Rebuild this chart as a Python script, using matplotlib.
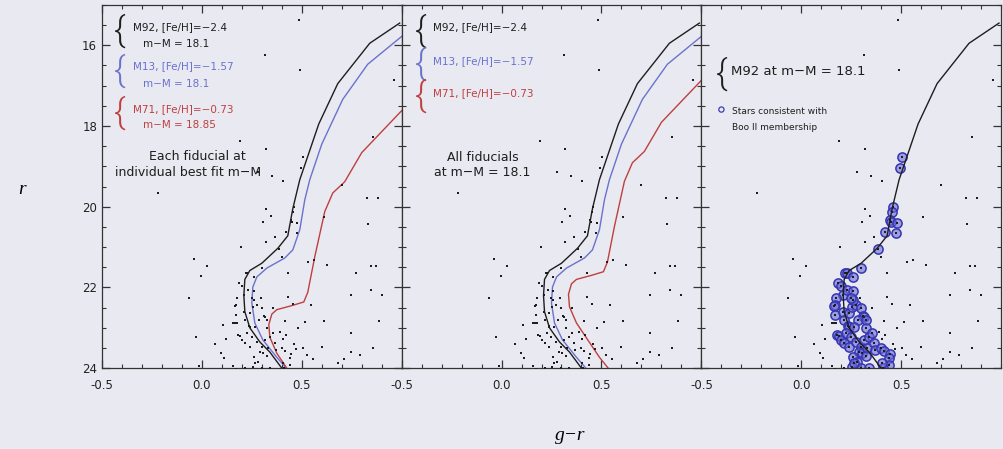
import matplotlib
matplotlib.use("Agg")
import matplotlib.pyplot as plt
from matplotlib.ticker import MultipleLocator, FormatStrFormatter

BG = "#e9e9f1"

# field stars (black dots only)
field_gr = [0.485, 0.315, 0.49, 0.96, 0.19, 0.32, 0.855, 0.28, 0.35, 0.405, 0.70, -0.22, 0.825, 0.88,
            0.32, 0.345, 0.305, 0.83, 0.61, 0.32, 0.365, 0.195, 0.40, 0.53, 0.56, 0.625, 0.845, 0.87,
            0.77, -0.04, 0.025, -0.005, -0.065, 0.43, 0.295, 0.105, 0.155, 0.165, 0.175, 0.355, 0.43,
            0.455, 0.545, 0.415, 0.515, 0.61, 0.48, 0.745, 0.845, 0.90, 0.885, 0.745, 0.855, 0.745,
            0.79, 0.71, 0.68, -0.03, 0.065, 0.12, 0.095, 0.11, -0.015, 0.155, 0.215, 0.17, -0.16,
            0.39, 0.42, 0.405, 0.47, 0.46, 0.505, 0.60, 0.525, 0.555]
field_r = [15.38, 16.25, 16.60, 16.86, 18.36, 18.57, 18.28, 19.15, 19.25, 19.37, 19.45, 19.65, 19.78, 19.78,
           20.05, 20.22, 20.37, 20.42, 20.25, 20.87, 20.75, 20.99, 21.25, 21.38, 21.33, 21.45, 21.47, 21.47,
           21.63, 21.30, 21.46, 21.72, 22.25, 21.64, 22.26, 22.93, 22.88, 22.88, 22.88, 22.51, 22.24,
           22.41, 22.43, 22.84, 22.85, 22.84, 23.00, 22.18, 22.06, 22.18, 22.84, 23.14, 23.49, 23.60,
           23.67, 23.77, 23.86, 23.23, 23.40, 23.28, 23.63, 23.75, 23.95, 23.95, 24.00, 24.03, 24.07,
           23.10, 23.18, 23.28, 23.53, 23.40, 23.50, 23.48, 23.67, 23.77]

# stars consistent with Boo II membership
memb_gr = [0.505, 0.495, 0.46, 0.455, 0.445, 0.45, 0.478, 0.475, 0.42, 0.385, 0.30, 0.22, 0.228, 0.26,
           0.185, 0.20, 0.21, 0.23, 0.26, 0.175, 0.17, 0.165, 0.17, 0.21, 0.215, 0.24, 0.235, 0.24,
           0.255, 0.275, 0.30, 0.31, 0.315, 0.285, 0.265, 0.325, 0.325, 0.18, 0.19, 0.20, 0.215, 0.225,
           0.25, 0.24, 0.275, 0.30, 0.315, 0.29, 0.305, 0.33, 0.34, 0.355, 0.365, 0.37, 0.26, 0.28,
           0.325, 0.40, 0.415, 0.445, 0.44, 0.44, 0.41, 0.405, 0.30, 0.34, 0.255, 0.265, 0.26, 0.25]
memb_r = [18.76, 19.03, 20.00, 20.12, 20.32, 20.37, 20.40, 20.66, 20.62, 21.05, 21.52, 21.64, 21.65, 21.74,
          21.89, 21.96, 22.19, 22.06, 22.09, 22.27, 22.44, 22.45, 22.68, 22.61, 22.81, 22.63, 22.96, 22.98,
          22.48, 22.43, 22.51, 22.71, 22.73, 22.81, 22.98, 22.81, 23.00, 23.18, 23.20, 23.30, 23.38, 23.13,
          23.23, 23.48, 23.35, 23.48, 23.30, 23.60, 23.63, 23.50, 23.23, 23.13, 23.38, 23.55, 23.73, 23.85,
          23.70, 23.50, 23.58, 23.65, 23.75, 23.93, 24.00, 23.88, 24.00, 24.00, 23.98, 23.88, 22.30, 22.26]

# fiducials, r at each cluster's best-fit distance modulus
m92_gr = [0.99, 0.84, 0.68, 0.585, 0.49, 0.455, 0.43, 0.38, 0.30, 0.24, 0.215, 0.21, 0.215, 0.24, 0.29, 0.34, 0.40, 0.44]
m92_r = [15.45, 15.95, 16.95, 17.95, 19.33, 20.05, 20.72, 21.03, 21.40, 21.58, 21.80, 22.20, 22.60, 23.00, 23.35, 23.60, 24.00, 24.20]
m13_gr = [1.0, 0.83, 0.705, 0.60, 0.54, 0.515, 0.49, 0.455, 0.415, 0.325, 0.275, 0.255, 0.25, 0.265, 0.305, 0.375, 0.44, 0.47]
m13_r = [15.78, 16.47, 17.34, 18.45, 19.33, 19.83, 20.57, 21.07, 21.27, 21.52, 21.74, 21.99, 22.39, 22.88, 23.30, 23.73, 24.10, 24.30]
m71_gr = [1.0, 0.80, 0.715, 0.655, 0.615, 0.565, 0.53, 0.51, 0.45, 0.375, 0.35, 0.335, 0.34, 0.375, 0.425, 0.49, 0.55]
m71_r = [17.62, 18.66, 19.38, 19.66, 20.12, 21.24, 22.12, 22.36, 22.45, 22.55, 22.66, 22.92, 23.23, 23.63, 24.00, 24.48, 24.85]

dm_m92 = 18.1
dm_m13 = 18.1
dm_m71 = 18.85
dm_common = 18.1

BLACK = "#1e1e1e"
BLUE = "#6a72cc"
RED = "#bf3f3f"


def shifted(r_vals, dm_from, dm_to):
    return [v - dm_from + dm_to for v in r_vals]


def style_axis(ax, left_labels):
    ax.set_facecolor(BG)
    ax.set_xlim(-0.5, 1.0)
    ax.set_ylim(24, 15)
    ax.xaxis.set_minor_locator(MultipleLocator(0.1))
    ax.yaxis.set_major_locator(MultipleLocator(2))
    ax.yaxis.set_minor_locator(MultipleLocator(0.5))
    ax.set_xticks([-0.5, 0.0, 0.5])
    ax.xaxis.set_major_formatter(FormatStrFormatter("%.1f"))
    ax.tick_params(which="both", direction="in", top=True, right=True, colors="#333333",
                   labelsize=8.5, labelcolor="#222222")
    ax.tick_params(which="major", length=6, width=0.9)
    ax.tick_params(which="minor", length=3, width=0.8)
    ax.tick_params(axis="x", pad=8)
    ax.tick_params(axis="y", labelleft=left_labels)
    for s in ax.spines.values():
        s.set_color("#333333")
        s.set_linewidth(0.9)


def draw_stars(ax):
    ax.scatter(field_gr, field_r, s=4, marker="s", color=BLACK, linewidths=0, zorder=3)
    ax.scatter(memb_gr, memb_r, s=4, marker="s", color=BLACK, linewidths=0, zorder=3)


def brace(ax, x, y, color):
    ax.text(x, y, "{", transform=ax.transAxes, fontsize=25, color=color, ha="center", va="center",
            fontweight=300, family=["Roboto", "DejaVu Sans"])


fig, axes = plt.subplots(1, 3, figsize=(10.04, 4.49), dpi=100)
fig.patch.set_facecolor(BG)
fig.subplots_adjust(left=0.1016, right=0.997, bottom=0.18, top=0.989, wspace=0)

# panel 1: each fiducial at its own best-fit distance
ax = axes[0]
style_axis(ax, True)
draw_stars(ax)
ax.plot(m92_gr, m92_r, color=BLACK, lw=1.0, zorder=2)
ax.plot(m13_gr, shifted(m13_r, 18.1, dm_m13), color=BLUE, lw=1.0, zorder=2)
ax.plot(m71_gr, shifted(m71_r, 18.85, dm_m71), color=RED, lw=1.0, zorder=2)
fs = 7.5
brace(ax, 0.058, 0.93, BLACK)
ax.text(0.103, 0.939, "M92, [Fe/H]=\u22122.4", transform=ax.transAxes, fontsize=fs, color=BLACK, va="center")
ax.text(0.137, 0.893, "m\u2212M = 18.1", transform=ax.transAxes, fontsize=fs, color=BLACK, va="center")
brace(ax, 0.058, 0.818, BLUE)
ax.text(0.103, 0.832, "M13, [Fe/H]=\u22121.57", transform=ax.transAxes, fontsize=fs, color=BLUE, va="center")
ax.text(0.137, 0.782, "m\u2212M = 18.1", transform=ax.transAxes, fontsize=fs, color=BLUE, va="center")
brace(ax, 0.058, 0.703, RED)
ax.text(0.103, 0.713, "M71, [Fe/H]=\u22120.73", transform=ax.transAxes, fontsize=fs, color=RED, va="center")
ax.text(0.137, 0.670, "m\u2212M = 18.85", transform=ax.transAxes, fontsize=fs, color=RED, va="center")
ax.text(0.317, 0.584, "Each fiducial at", transform=ax.transAxes, fontsize=9, color=BLACK,
        ha="center", va="center")
ax.text(0.287, 0.540, "individual best fit m\u2212M", transform=ax.transAxes, fontsize=9, color=BLACK,
        ha="center", va="center")

# panel 2: all fiducials at the same distance
ax = axes[1]
style_axis(ax, False)
draw_stars(ax)
ax.plot(m92_gr, shifted(m92_r, dm_m92, dm_common), color=BLACK, lw=1.0, zorder=2)
ax.plot(m13_gr, shifted(m13_r, dm_m13, dm_common), color=BLUE, lw=1.0, zorder=2)
ax.plot(m71_gr, shifted(m71_r, dm_m71, dm_common), color=RED, lw=1.0, zorder=2)
brace(ax, 0.063, 0.93, BLACK)
ax.text(0.103, 0.939, "M92, [Fe/H]=\u22122.4", transform=ax.transAxes, fontsize=fs, color=BLACK, va="center")
brace(ax, 0.063, 0.838, BLUE)
ax.text(0.103, 0.846, "M13, [Fe/H]=\u22121.57", transform=ax.transAxes, fontsize=fs, color=BLUE, va="center")
brace(ax, 0.063, 0.75, RED)
ax.text(0.103, 0.758, "M71, [Fe/H]=\u22120.73", transform=ax.transAxes, fontsize=fs, color=RED, va="center")
ax.text(0.27, 0.579, "All fiducials", transform=ax.transAxes, fontsize=9, color=BLACK,
        ha="center", va="center")
ax.text(0.27, 0.540, "at m\u2212M = 18.1", transform=ax.transAxes, fontsize=9, color=BLACK,
        ha="center", va="center")

# panel 3: M92 fiducial with likely Boo II members
ax = axes[2]
style_axis(ax, False)
draw_stars(ax)
ax.scatter(memb_gr, memb_r, s=44, marker="o", facecolor=(0.42, 0.42, 0.85, 0.6),
           edgecolor="#3636b0", linewidths=1.1, zorder=2)
ax.plot(m92_gr, shifted(m92_r, dm_m92, dm_common), color=BLACK, lw=1.0, zorder=4)
brace(ax, 0.068, 0.81, BLACK)
ax.text(0.10, 0.818, "M92 at m\u2212M = 18.1", transform=ax.transAxes, fontsize=9.5, color=BLACK, va="center")
ax.scatter([0.067], [0.712], s=14, marker="o", facecolor="none", edgecolor="#3b3bb5",
           linewidths=0.9, transform=ax.transAxes, clip_on=False)
ax.text(0.103, 0.707, "Stars consistent with", transform=ax.transAxes, fontsize=6.5, color=BLACK, va="center")
ax.text(0.103, 0.662, "Boo II membership", transform=ax.transAxes, fontsize=6.5, color=BLACK, va="center")

fig.text(0.022, 0.577, "r", fontsize=14, family="Liberation Serif", style="italic",
         ha="center", va="center")
fig.text(0.568, 0.03, "g\u2212r", fontsize=14, family="Liberation Serif", style="italic",
         ha="center", va="center")

fig.savefig("out.png", dpi=100, facecolor=BG)
